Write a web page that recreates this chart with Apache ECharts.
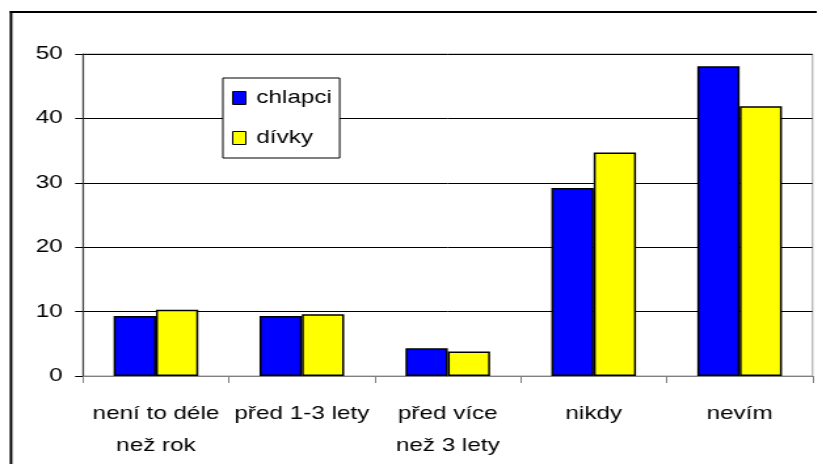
<!DOCTYPE html>
<html>
<head>
<meta charset="utf-8">
<script src="https://cdn.jsdelivr.net/npm/echarts@6/dist/echarts.min.js"></script>
<style>
  html, body { margin: 0; padding: 0; background: #fff; overflow: hidden; width: 818px; height: 464px; }
  /* The chart is laid out narrower and widened horizontally, giving the wide lettering */
  #chart { width: 624px; height: 464px; transform: scaleX(1.311); transform-origin: 0 0; }
</style>
</head>
<body>
<div id="chart"></div>
<script>
// Categories (when) and the two groups' percentages
const categories = ['není to déle\nnež rok', 'před 1-3 lety', 'před více\nnež 3 lety', 'nikdy', 'nevím'];
const chlapci = [9.3, 9.3, 4.3, 29.2, 48.1];
const divky = [10.3, 9.6, 3.8, 34.7, 41.9];
const seriesNames = ['chlapci', 'dívky'];
const yMin = 0, yMax = 50, yStep = 10;

const FONT = 'Liberation Sans, Arial, sans-serif';
const FS = 18.5;
const chart = echarts.init(document.getElementById('chart'), null, { renderer: 'canvas' });

chart.setOption({
  animation: false,
  backgroundColor: '#fff',
  textStyle: { fontFamily: FONT },
  grid: {
    left: 63.3, right: 4.2, top: 54, bottom: 88,
    show: true, borderColor: '#9a9a9a', borderWidth: 1, backgroundColor: 'transparent'
  },
  graphic: [
    // frame around the chart: left edge and top edge
    { type: 'line', shape: { x1: 8.4, y1: 11, x2: 8.4, y2: 470 }, style: { stroke: '#000', lineWidth: 2 }, silent: true },
    { type: 'line', shape: { x1: 7.4, y1: 12, x2: 623, y2: 12 }, style: { stroke: '#000', lineWidth: 2 }, silent: true }
  ],
  legend: {
    orient: 'vertical',
    left: 170, top: 78,
    padding: [10, 6, 10, 7],
    itemGap: 20,
    itemWidth: 10, itemHeight: 13,
    icon: 'rect',
    backgroundColor: '#fff',
    borderColor: '#000',
    borderWidth: 1,
    itemStyle: { borderColor: '#000', borderWidth: 1 },
    textStyle: { fontFamily: FONT, fontSize: FS, color: '#000', lineHeight: 20, padding: [0, 0, 0, 3] },
    data: seriesNames
  },
  xAxis: {
    type: 'category',
    data: categories,
    axisLine: { lineStyle: { color: '#808080', width: 1 } },
    axisTick: { show: true, length: 7, lineStyle: { color: '#808080' } },
    axisLabel: { color: '#000', fontSize: FS, fontFamily: FONT, lineHeight: 32, margin: 22, interval: 0 },
    splitLine: { show: false }
  },
  yAxis: {
    type: 'value',
    min: yMin, max: yMax, interval: yStep,
    axisLine: { show: true, lineStyle: { color: '#404040', width: 1.2 } },
    axisTick: { show: true, length: 6, lineStyle: { color: '#000' } },
    axisLabel: { color: '#000', fontSize: FS, fontFamily: FONT, margin: 15.5 },
    splitLine: { show: true, lineStyle: { color: '#000', width: 1 } }
  },
  series: [
    {
      name: seriesNames[0], type: 'bar', data: chlapci,
      barGap: '0%', barCategoryGap: '42%',
      itemStyle: { color: '#0000ff', borderColor: '#000', borderWidth: 1.5 }
    },
    {
      name: seriesNames[1], type: 'bar', data: divky,
      barGap: '0%', barCategoryGap: '42%',
      itemStyle: { color: '#ffff00', borderColor: '#000', borderWidth: 1.5 }
    }
  ]
});
</script>
</body>
</html>
